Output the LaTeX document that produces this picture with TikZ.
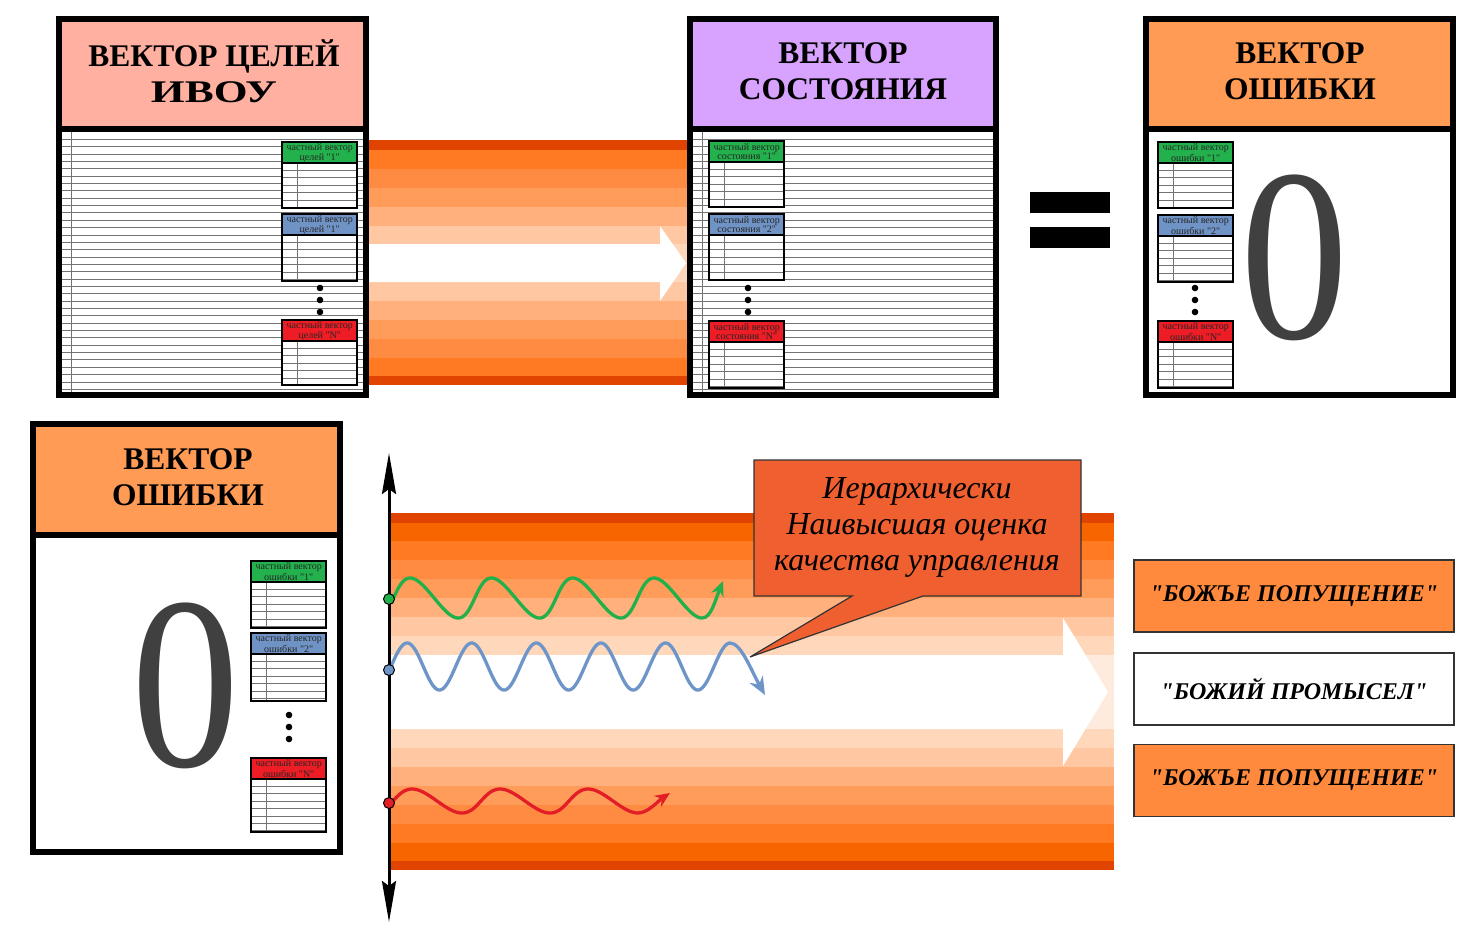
\documentclass[tikz,border=0pt]{standalone}
\usepackage{fontspec}
\usepackage{graphicx}
\setmainfont{Liberation Serif}[Ligatures=TeXOff]
\usetikzlibrary{arrows.meta}
\definecolor{hdrpink}{HTML}{FFB0A0}
\definecolor{hdrlilac}{HTML}{D8A2FF}
\definecolor{hdrorange}{HTML}{FF9B55}
\definecolor{svgreen}{HTML}{22B14C}
\definecolor{svblue}{HTML}{7093C5}
\definecolor{svred}{HTML}{EE1C24}
\definecolor{wgreen}{HTML}{22B04B}
\definecolor{wblue}{HTML}{6E95C8}
\definecolor{wred}{HTML}{E41E26}
\definecolor{tb0}{HTML}{E04400}
\definecolor{bb1}{HTML}{F76500}
\definecolor{tb1}{HTML}{FF7A22}
\definecolor{tb2}{HTML}{FF8B42}
\definecolor{tb3}{HTML}{FF9C5A}
\definecolor{tb4}{HTML}{FFB07C}
\definecolor{tb5}{HTML}{FFC7A2}
\definecolor{tb6}{HTML}{FFD8BC}
\definecolor{bb7}{HTML}{FFEBDD}
\definecolor{callfill}{HTML}{EF5F30}
\definecolor{godfill}{HTML}{FF8A3D}
\definecolor{zerogray}{HTML}{404040}
\tikzset{axtip/.tip={Stealth[length=41,width=14,inset=5]}}
\newcommand{\subvec}[6]{%
  \fill[white] (#2,#3) rectangle (#2+75,#6);
  \node[svhdr, fill=#4, anchor=north west] (#1) at (#2,#3) {частный вектор\\#5};
  \begin{scope}
    \clip (#2,#3+21) rectangle (#2+75,#6);
    \foreach \k in {1,...,9} \draw[svline] (#2,{#3+21+\k*7.4}) -- (#2+75,{#3+21+\k*7.4});
  \end{scope}
  \draw[svline] (#2+15,#3+21) -- (#2+15,#6);
  \draw[line width=2.5] (#2,#3) rectangle (#2+75,#6);
  \draw[line width=2.5] (#2,#3+21) -- (#2+75,#3+21);
}
\newcommand{\threedots}[2]{%
  \fill (#1,#2) circle (3.3);
  \fill (#1,#2+12) circle (3.3);
  \fill (#1,#2+24) circle (3.3);
}
\begin{document}
\begin{tikzpicture}[x=1pt,y=-1pt,
  frame/.style={draw=black, line width=6},
  hdrtext/.style={align=center, font=\fontsize{31.5}{36}\selectfont\bfseries, inner sep=0},
  svhdr/.style={minimum width=75, minimum height=21, inner sep=0, align=center, text=black!85, font=\fontsize{10}{8.3}\selectfont},
  svline/.style={draw=black!55, line width=0.9},
  bodyline/.style={draw=black!55, line width=0.8},
  wave/.style={line width=3.3, line cap=round},
  startdot/.style={circle, draw=black, line width=1, minimum size=11, inner sep=0},
  zero/.style={text=zerogray, font=\fontsize{246}{246}\selectfont, inner sep=0},
  godbox/.style={draw=black!80, line width=1.5, minimum width=320, minimum height=72, inner sep=0, font=\fontsize{24}{28}\selectfont\bfseries\itshape}
]
\useasboundingbox (0,0) rectangle (1471,937);

% ---------- top band with arrow
\foreach \ya/\yb/\c in {140/150/tb0,150/169/tb1,169/188/tb2,188/207/tb3,207/226/tb4,226/244/tb5,244/282/tb6,282/301/tb5,301/320/tb4,320/339/tb3,339/358/tb2,358/376/tb1,376/385/tb0}
  \fill[\c] (366,\ya) rectangle (690,\yb);
\fill[white] (366,244) -- (660,244) -- (660,226) -- (686,263) -- (660,301) -- (660,282) -- (366,282) -- cycle;

% ---------- box A (goals)
\fill[white] (59,19) rectangle (366,395);
\fill[hdrpink] (62,22) rectangle (363,126);
\begin{scope}
  \clip (62,132) rectangle (363,392);
  \foreach \k in {1,...,36} \draw[bodyline] (62,{132+\k*7.35}) -- (363,{132+\k*7.35});
\end{scope}
\draw[bodyline] (71,132) -- (71,392);
\draw[frame] (59,19) rectangle (366,395);
\draw[frame] (59,129) -- (366,129);
\node[hdrtext] (hA) at (214,71) {ВЕКТОР ЦЕЛЕЙ\\\scalebox{1.38}[1]{ИВОУ}};
\subvec{a1}{282}{142}{svgreen}{целей "1"}{208}
\subvec{a2}{282}{214}{svblue}{целей "1"}{281}
\threedots{320}{288}
\subvec{a3}{282}{320}{svred}{целей "N"}{385}

% ---------- box B (state)
\fill[white] (690,19) rectangle (996,395);
\fill[hdrlilac] (693,22) rectangle (993,126);
\begin{scope}
  \clip (693,132) rectangle (993,392);
  \foreach \k in {1,...,36} \draw[bodyline] (693,{132+\k*7.35}) -- (993,{132+\k*7.35});
\end{scope}
\draw[bodyline] (702,132) -- (702,392);
\draw[frame] (690,19) rectangle (996,395);
\draw[frame] (690,129) -- (996,129);
\node[hdrtext] (hB) at (843,71) {ВЕКТОР\\СОСТОЯНИЯ};
\subvec{b1}{709}{141}{svgreen}{состояния "1"}{207}
\subvec{b2}{709}{214}{svblue}{состояния "2"}{280}
\threedots{748}{288}
\subvec{b3}{709}{321}{svred}{состояния "N"}{388}

% ---------- equals
\fill (1030,192) rectangle (1110,213);
\fill (1030,227) rectangle (1110,248);

% ---------- box C (error, top)
\fill[white] (1146,19) rectangle (1453,395);
\fill[hdrorange] (1149,22) rectangle (1450,126);
\draw[frame] (1146,19) rectangle (1453,395);
\draw[frame] (1146,129) -- (1453,129);
\node[hdrtext] (hC) at (1300,71) {ВЕКТОР\\ОШИБКИ};
\subvec{c1}{1158}{142}{svgreen}{ошибки "1"}{208}
\subvec{c2}{1158}{215}{svblue}{ошибки "2"}{282}
\threedots{1195}{288}
\subvec{c3}{1158}{321}{svred}{ошибки "N"}{388}
\node[zero] (zC) at (1295,258) {\scalebox{0.88}[1]{0}};

% ---------- box D (error, bottom-left)
\fill[white] (33,424) rectangle (340,852);
\fill[hdrorange] (36,427) rectangle (337,532);
\draw[frame] (33,424) rectangle (340,852);
\draw[frame] (33,535) -- (340,535);
\node[hdrtext] (hD) at (188,477) {ВЕКТОР\\ОШИБКИ};
\subvec{d1}{251}{561}{svgreen}{ошибки "1"}{628}
\subvec{d2}{251}{633}{svblue}{ошибки "2"}{701}
\threedots{289}{715}
\subvec{d3}{251}{758}{svred}{ошибки "N"}{832}
\node[zero] (zD) at (186,686) {\scalebox{0.88}[1]{0}};

% ---------- bottom band with arrow
\foreach \ya/\yb/\c in {513/523/tb0,523/541/bb1,541/560/tb1,560/579/tb2,579/598/tb3,598/617/tb4,617/636/tb5,636/655/tb6,655/729/bb7,729/748/tb6,748/767/tb5,767/786/tb4,786/805/tb3,805/824/tb2,824/843/tb1,843/861/bb1,861/870/tb0}
  \fill[\c] (389,\ya) rectangle (1114,\yb);
\fill[white] (389,655) -- (1063,655) -- (1063,618) -- (1108,692) -- (1063,766) -- (1063,729) -- (389,729) -- cycle;

% ---------- callout
\draw[fill=callfill, draw=black!80, line width=1.2] (754,460) -- (1081,460) -- (1081,596) -- (923,596) -- (750,657) -- (852,596) -- (754,596) -- cycle;
\node[align=center, inner sep=0, font=\fontsize{32}{36}\selectfont\itshape] (callt) at (917,527) {Иерархически\\Наивысшая оценка\\качества управления};

% ---------- waves
\draw[wave, wgreen, -{Stealth[length=15,width=13]}] plot[domain=0:1350, samples=300, variable=\t] ({393.5+\t/360*81.3-3.7*sin(\t)}, {598-20*sin(\t)}) .. controls (711,618) and (715,601) .. (723,581);
\draw[wave, wblue, -{Stealth[length=18,width=15]}] plot[domain=0:1890, samples=380, variable=\t] ({391+\t/360*64.6}, {666.5-23.5*sin(\t)}) .. controls (741,643) and (751,670) .. (765,695);
\draw[wave, wred, -{Stealth[length=15,width=13]}] plot[domain=0:990, samples=240, variable=\t] ({393+\t/360*88-3*sin(\t)}, {801-12*sin(\t)}) .. controls (648,813) and (658,801) .. (670,793);

% ---------- axis
\coordinate (axT) at (389,453);
\coordinate (axB) at (389,922);
\draw[line width=3, {axtip}-{axtip}] (axT) -- (axB);
\node[startdot, fill=wgreen] (sg) at (389,599) {};
\node[startdot, fill=wblue] (sb) at (389,670) {};
\node[startdot, fill=wred] (sr) at (389,803) {};

% ---------- right boxes
\node[godbox, fill=godfill] (g1) at (1294,596) {"БОЖЪЕ ПОПУЩЕНИЕ"};
\node[godbox, fill=white] (g2) at (1294,689) {"БОЖИЙ ПРОМЫСЕЛ"};
\node[godbox, fill=godfill] (g3) at (1294,780.5) {"БОЖЪЕ ПОПУЩЕНИЕ"};
\end{tikzpicture}
\end{document}
